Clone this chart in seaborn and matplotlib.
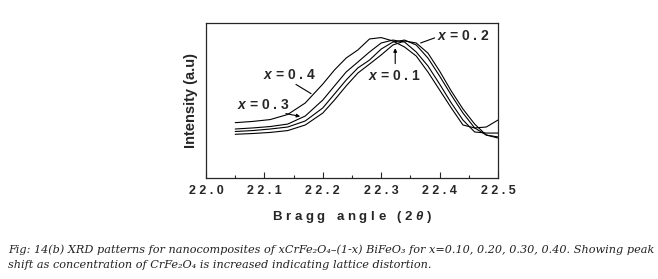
import numpy as np
import pandas as pd
import matplotlib
matplotlib.use("Agg")
import matplotlib.pyplot as plt
import seaborn as sns
from matplotlib.ticker import MultipleLocator

# ---- data ----
angle = [22.05, 22.08, 22.11, 22.14, 22.17, 22.20, 22.22, 22.24, 22.26, 22.28,
         22.30, 22.32, 22.34, 22.36, 22.38, 22.40, 22.42, 22.44, 22.46, 22.48, 22.50]
int_x04 = [35.7, 36.5, 37.7, 41.0, 48.4, 60.6, 69.7, 77.4, 82.6, 89.7,
           90.6, 88.4, 84.5, 78.7, 68.4, 56.8, 45.2, 34.2, 32.3, 32.9, 37.4]
int_x03 = [31.6, 32.3, 33.2, 34.8, 40.0, 50.3, 59.4, 68.4, 74.8, 81.3,
           87.1, 89.0, 87.7, 81.3, 72.3, 60.6, 48.4, 37.4, 29.7, 29.0, 29.0]
int_x02 = [30.0, 30.6, 31.6, 32.9, 36.8, 45.2, 54.2, 63.2, 71.0, 76.1,
           83.2, 87.7, 89.0, 85.8, 77.4, 65.8, 53.5, 41.9, 32.3, 27.7, 26.5]
int_x01 = [28.2, 28.7, 29.4, 30.6, 34.2, 41.9, 50.3, 59.4, 67.7, 73.5,
           79.4, 85.8, 88.4, 87.1, 80.6, 69.0, 56.1, 44.5, 34.8, 27.7, 25.8]
series = {"x = 0 . 4": int_x04, "x = 0 . 3": int_x03,
          "x = 0 . 2": int_x02, "x = 0 . 1": int_x01}
xtick_vals = [22.0, 22.1, 22.2, 22.3, 22.4, 22.5]
xtick_labels = ["2 2 . 0", "2 2 . 1", "2 2 . 2", "2 2 . 3", "2 2 . 4", "2 2 . 5"]

df = pd.concat([pd.DataFrame({"angle": angle, "intensity": v, "sample": k})
                for k, v in series.items()], ignore_index=True)

sns.set_style("ticks")
plt.rcParams["font.family"] = ["Liberation Sans", "DejaVu Sans"]
plt.rcParams["mathtext.fontset"] = "custom"
plt.rcParams["mathtext.it"] = "Liberation Sans:italic:bold"
plt.rcParams["mathtext.rm"] = "Liberation Sans:bold"

fig = plt.figure(figsize=(6.58, 2.79), dpi=100)
ax = fig.add_axes([206/658, 1-178/279, 292/658, 155/279])

sns.lineplot(data=df, x="angle", y="intensity", units="sample", estimator=None,
             color="black", linewidth=0.8, ax=ax, legend=False, sort=False)

ax.set_xlim(22.0, 22.5)
ax.set_ylim(0, 100)
ax.set_yticks([])
ax.set_xticks(xtick_vals)
ax.set_xticklabels(xtick_labels, fontsize=9, fontweight="bold")
ax.xaxis.set_minor_locator(MultipleLocator(0.05))
ax.tick_params(axis="x", which="major", direction="in", length=4, width=0.8, pad=5)
ax.tick_params(axis="x", which="minor", direction="in", length=2, width=0.8)
for s in ax.spines.values():
    s.set_visible(True)
    s.set_linewidth(0.9)

ax.set_xlabel("B r a g g   a n g l e   ( 2 $\\theta$ )", fontsize=9.5,
              fontweight="bold", labelpad=9)
ax.set_ylabel("Intensity (a.u)", fontsize=10.5, fontweight="bold", labelpad=6)

# annotations
lab = {"x = 0 . 4": (22.097, 66.5), "x = 0 . 3": (22.053, 47.1),
       "x = 0 . 2": (22.395, 91.6), "x = 0 . 1": (22.278, 65.8)}
for k, (tx, ty) in lab.items():
    txt = "$\\mathit{x}$" + k[1:]
    ax.text(tx, ty, txt, fontsize=10, fontweight="bold", ha="left", va="center")

ap = dict(arrowstyle="-", color="black", lw=0.8)
ax.annotate("", xy=(22.184, 53.5), xytext=(22.150, 61.3), arrowprops=ap)
ax.annotate("", xy=(22.166, 39.4), xytext=(22.132, 41.9),
            arrowprops=dict(arrowstyle="-|>", color="black", lw=0.8, mutation_scale=5))
ax.annotate("", xy=(22.363, 86.5), xytext=(22.396, 91.0), arrowprops=ap)
ax.annotate("", xy=(22.324, 85.5), xytext=(22.324, 72.0),
            arrowprops=dict(arrowstyle="-|>", color="black", lw=0.8, mutation_scale=5))

cap1 = ("Fig: 14(b) XRD patterns for nanocomposites of xCrFe\u2082O\u2084\u2013(1-x) BiFeO\u2083 "
        "for x=0.10, 0.20, 0.30, 0.40. Showing peak")
cap2 = "shift as concentration of CrFe\u2082O\u2084 is increased indicating lattice distortion."
fig.text(8/658, 1-250/279, cap1, fontsize=8.1, style="italic", color="#222222",
         family=["DejaVu Serif"], va="center")
fig.text(8/658, 1-265/279, cap2, fontsize=8.1, style="italic", color="#222222",
         family=["DejaVu Serif"], va="center")

fig.savefig("out.png", dpi=100)
